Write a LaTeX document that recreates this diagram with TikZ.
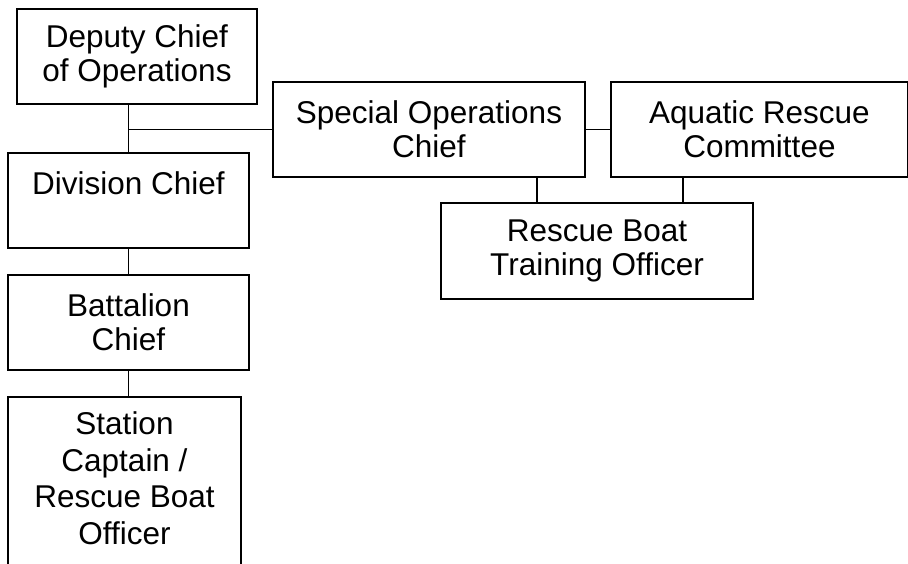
\documentclass[tikz,border=0pt]{standalone}
\usepackage{fontspec}
\setmainfont{Liberation Sans}
\usepackage{tikz}
\usetikzlibrary{positioning}

\begin{document}
\begin{tikzpicture}[x=1pt, y=-1pt, every node/.style={font=\fontsize{31.5}{34}\selectfont}]
  % Styles
  \tikzstyle{box}=[rectangle, draw, line width=1.9pt, align=center, minimum height=95pt, inner sep=2pt]
  \tikzstyle{link}=[line width=1.9pt]

  \useasboundingbox (0,0) rectangle (908,564);
  \clip (0,0) rectangle (908,564);

  % Left column
  \node[box, minimum width=240pt] (deputy) at (137,56.5) {Deputy Chief\\of Operations};
  \node[box, minimum width=241pt] (division) at (128.5,200.5) {Division Chief\\\mbox{}};
  \node[box, minimum width=241pt, below=25pt of division] (battalion) {Battalion\\Chief};
  \node[box, minimum width=233pt, inner ysep=15pt, text depth=260pt,
        font=\fontsize{31.5}{36.5}\selectfont,
        below=25pt of battalion.south west, anchor=north west] (station) {Station\\Captain /\\Rescue Boat\\Officer};

  % Special operations branch
  \node[box, minimum width=312pt] (special) at (429,129.5) {Special Operations\\Chief};
  \node[box, minimum width=297pt, right=24pt of special] (aquatic) {Aquatic Rescue\\Committee};
  \node[box, minimum width=312pt, minimum height=96pt, below=24pt of special, xshift=168pt] (training) {Rescue Boat\\Training Officer};

  % Lines
  \draw[link] (division.north) -- (division.north |- deputy.south);
  \draw[link] (special.west) -- (special.west -| division.north);
  \draw[link] (division.south) -- (battalion.north);
  \draw[link] (battalion.south) -- (battalion.south |- station.north);
  \draw[link] (special.east) -- (aquatic.west);
  \draw[link] ([xshift=108pt]special.south) -- ([xshift=108pt]special.south |- training.north);
  \draw[link] ([xshift=-76pt]aquatic.south) -- ([xshift=-76pt]aquatic.south |- training.north);
\end{tikzpicture}
\end{document}
